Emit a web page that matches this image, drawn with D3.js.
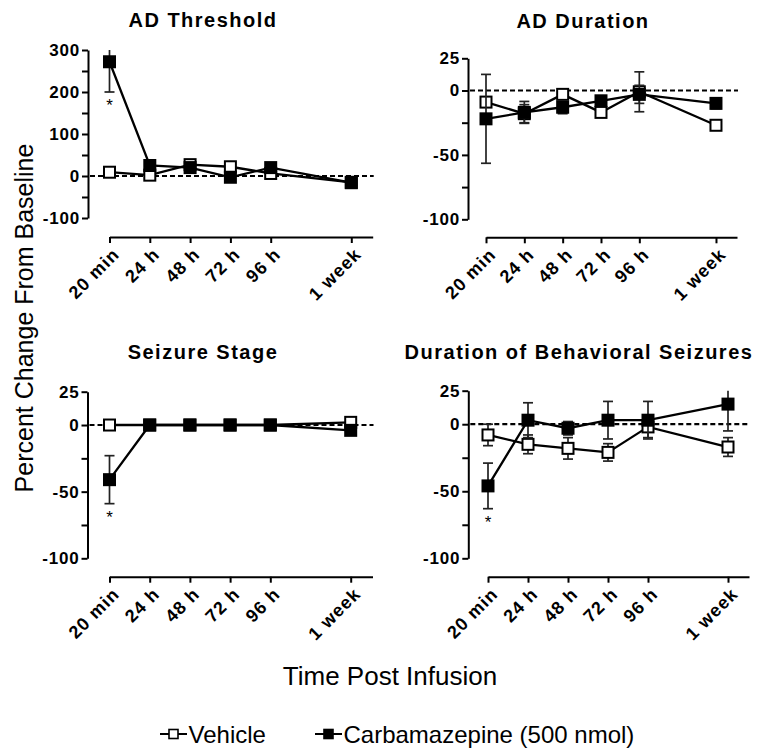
<!DOCTYPE html>
<html><head><meta charset="utf-8">
<script src="https://cdn.jsdelivr.net/npm/d3@7"></script>
<style>body{margin:0;background:#fff}svg{display:block}</style>
</head><body><svg id="c" width="762" height="754"></svg>
<script>
// ---- data ----
const categories = ["20 min", "24 h", "48 h", "72 h", "96 h", "1 week"];
const positions = [0, 1, 2, 3, 4, 6];
const seriesNames = ["Vehicle", "Carbamazepine (500 nmol)"];
const panelTitles = ["AD Threshold", "AD Duration", "Seizure Stage", "Duration of Behavioral Seizures"];

const thresholdVehicle = [9, 2, 27, 22, 6, -15];
const thresholdVehicleErr = [4, 3, 5, 6, 4, 3];
const thresholdCbz = [272, 25, 20, -3, 20, -16];
const thresholdCbzErr = [72, 6, 8, 6, 6, 4];

const durationVehicle = [-9, -18, -3, -17, -1, -27];
const durationVehicleErr = [3, 7, 3, 3, 15.5, 2];
const durationCbz = [-22, -17, -13, -8, -3, -10];
const durationCbzErr = [34.5, 8.5, 5, 3, 7, 4];

const stageVehicle = [0, 0, 0, 0, 0, 2];
const stageVehicleErr = [0, 0, 0, 0, 0, 0];
const stageCbz = [-41, 0, 0, 0, 0, -4];
const stageCbzErr = [18, 0, 0, 0, 0, 2];

const behavVehicle = [-8, -15, -18, -21, -2, -17];
const behavVehicleErr = [8, 7, 8, 6.5, 8, 7];
const behavCbz = [-46, 3, -3, 3, 3, 15];
const behavCbzErr = [17, 13, 5, 14, 14, 20];

const thresholdTicks = [-100, 0, 100, 200, 300];
const thresholdMinorTicks = [-50, 50, 150, 250];
const smallTicks = [-100, -50, 0, 25];
const smallMinorTicks = [-75, -25];
const significantIndex = [0]; // asterisk positions for carbamazepine

// ---- layout ----
const panels = [
  {title: panelTitles[0], veh: thresholdVehicle, vehE: thresholdVehicleErr, cbz: thresholdCbz, cbzE: thresholdCbzErr,
   ticks: thresholdTicks, minor: thresholdMinorTicks, stars: significantIndex,
   ax: 88, yTop: 50, yBot: 218, xAxisY: 237, x0: 109.5, dx: 40.3, xEnd: 372.7, tx: 203, ty: 27},
  {title: panelTitles[1], veh: durationVehicle, vehE: durationVehicleErr, cbz: durationCbz, cbzE: durationCbzErr,
   ticks: smallTicks, minor: smallMinorTicks, stars: [],
   ax: 468, yTop: 58.3, yBot: 219.3, xAxisY: 237.3, x0: 486, dx: 38.33, xEnd: 737, tx: 583, ty: 28},
  {title: panelTitles[2], veh: stageVehicle, vehE: stageVehicleErr, cbz: stageCbz, cbzE: stageCbzErr,
   ticks: smallTicks, minor: smallMinorTicks, stars: significantIndex,
   ax: 87.5, yTop: 391.7, yBot: 558.3, xAxisY: 576.7, x0: 109.5, dx: 40.2, xEnd: 372.5, tx: 203, ty: 359},
  {title: panelTitles[3], veh: behavVehicle, vehE: behavVehicleErr, cbz: behavCbz, cbzE: behavCbzErr,
   ticks: smallTicks, minor: smallMinorTicks, stars: significantIndex,
   ax: 468.3, yTop: 390.7, yBot: 558.3, xAxisY: 576.7, x0: 488, dx: 40, xEnd: 749, tx: 579, ty: 359}
];

const FONT = "'Liberation Sans', Arial, Helvetica, sans-serif";
const svg = d3.select("#c").attr("font-family", FONT);
const MS = 11; // marker size

panels.forEach(p => {
  const dom = [d3.min(p.ticks), d3.max(p.ticks)];
  const y = d3.scaleLinear().domain(dom).range([p.yBot, p.yTop]);
  const x = d3.scaleLinear().domain([0, (p.xEnd - p.x0) / p.dx]).range([p.x0, p.xEnd]);
  const g = svg.append("g");

  // title
  g.append("text").attr("x", p.tx).attr("y", p.ty).attr("text-anchor", "middle")
    .attr("font-size", 20).attr("font-weight", "bold").attr("letter-spacing", 1.5).text(p.title);

  // y axis
  const yAxis = d3.axisLeft(y).tickValues(p.ticks.concat(p.minor)).tickSize(6).tickSizeOuter(0).tickPadding(2)
    .tickFormat(d => p.ticks.includes(d) ? String(d) : "");
  g.append("g").attr("transform", `translate(${p.ax},0)`).call(yAxis)
    .call(s => {
      s.select(".domain").attr("stroke-width", 2).attr("stroke", "#000");
      s.selectAll(".tick line").attr("stroke-width", 2).attr("stroke", "#000");
      s.selectAll(".tick text").attr("font-size", 17).attr("font-weight", "bold")
        .attr("letter-spacing", 0.8).attr("font-family", FONT).attr("fill", "#000");
    });

  // x axis
  const xAxis = d3.axisBottom(x).tickValues(positions).tickSize(6).tickSizeOuter(0)
    .tickFormat((d, i) => categories[i]);
  g.append("g").attr("transform", `translate(0,${p.xAxisY})`).call(xAxis)
    .call(s => {
      s.select(".domain").attr("stroke-width", 2).attr("stroke", "#000");
      s.selectAll(".tick line").attr("stroke-width", 2).attr("stroke", "#000");
      s.selectAll(".tick text").attr("font-size", 18).attr("font-weight", "bold")
        .attr("letter-spacing", 1).attr("font-family", FONT).attr("fill", "#000")
        .attr("text-anchor", "end").attr("x", 0).attr("y", 0).attr("dy", "0.35em")
        .attr("transform", "translate(6,14) rotate(-45)");
    });

  // zero dashed line
  g.append("line").attr("x1", p.ax + 2).attr("x2", p.xEnd + 1).attr("y1", y(0)).attr("y2", y(0))
    .attr("stroke", "#000").attr("stroke-width", 2.2).attr("stroke-dasharray", "5,3");

  const series = [
    {vals: p.veh, err: p.vehE, filled: false},
    {vals: p.cbz, err: p.cbzE, filled: true}
  ];
  series.forEach(s => {
    const sg = g.append("g");
    // error bars
    s.vals.forEach((v, i) => {
      const e = s.err[i];
      if (!e) return;
      const cx = x(positions[i]);
      const hiV = v + e, loV = v - e;
      const hi = y(Math.min(hiV, dom[1])), lo = y(Math.max(loV, dom[0]));
      sg.append("line").attr("x1", cx).attr("x2", cx).attr("y1", hi).attr("y2", lo)
        .attr("stroke", "#222").attr("stroke-width", 1.7);
      if (hiV <= dom[1]) sg.append("line").attr("x1", cx - 5).attr("x2", cx + 5).attr("y1", hi).attr("y2", hi)
        .attr("stroke", "#222").attr("stroke-width", 1.7);
      if (loV >= dom[0]) sg.append("line").attr("x1", cx - 5).attr("x2", cx + 5).attr("y1", lo).attr("y2", lo)
        .attr("stroke", "#222").attr("stroke-width", 1.7);
    });
    // line
    const line = d3.line().x((d, i) => x(positions[i])).y(d => y(d));
    sg.append("path").datum(s.vals).attr("d", line).attr("fill", "none")
      .attr("stroke", "#000").attr("stroke-width", 2.3);
    // markers
    sg.selectAll("rect").data(s.vals).join("rect")
      .attr("x", (d, i) => x(positions[i]) - MS / 2).attr("y", d => y(d) - MS / 2)
      .attr("width", MS).attr("height", MS)
      .attr("fill", s.filled ? "#000" : "#fff").attr("stroke", "#000").attr("stroke-width", 2);
  });

  // significance asterisks
  p.stars.forEach(i => {
    const v = p.cbz[i] - p.cbzE[i];
    g.append("text").attr("x", x(positions[i])).attr("y", y(v) + 19).attr("text-anchor", "middle")
      .attr("font-size", 17).text("*");
  });
});

// axis titles
svg.append("text").attr("transform", "translate(33,318) rotate(-90)").attr("text-anchor", "middle")
  .attr("font-size", 25).attr("fill", "#000").text("Percent Change From Baseline");
svg.append("text").attr("x", 390).attr("y", 685).attr("text-anchor", "middle")
  .attr("font-size", 26).attr("fill", "#000").text("Time Post Infusion");

// legend
const legendX = [160, 315];
const lg = svg.append("g");
seriesNames.forEach((name, k) => {
  const lx = legendX[k], ly = 734;
  lg.append("line").attr("x1", lx).attr("x2", lx + 27).attr("y1", ly).attr("y2", ly)
    .attr("stroke", "#000").attr("stroke-width", 2);
  lg.append("rect").attr("x", lx + 13.5 - 4.5).attr("y", ly - 4.5).attr("width", 9).attr("height", 9)
    .attr("fill", k === 0 ? "#fff" : "#000").attr("stroke", "#000").attr("stroke-width", 1.6);
  lg.append("text").attr("x", lx + 28.5).attr("y", 743).attr("font-size", 24).attr("fill", "#000").text(name);
});
</script>
</body></html>
